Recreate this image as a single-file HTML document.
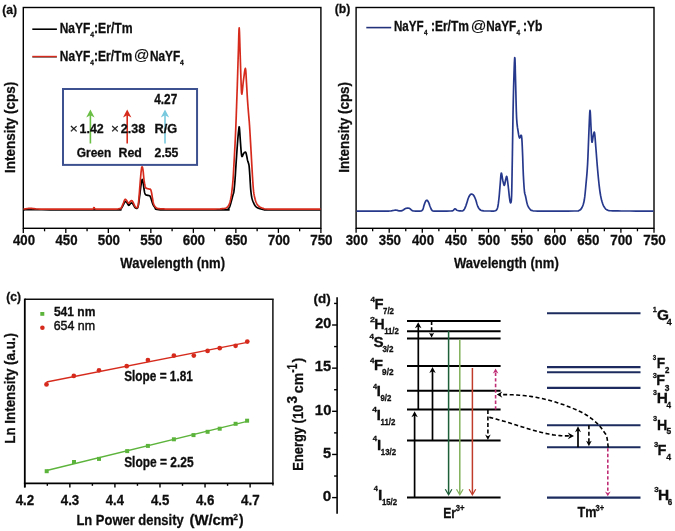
<!DOCTYPE html>
<html><head><meta charset="utf-8"><style>
html,body{margin:0;padding:0;background:#fff;}
svg{display:block;}

</style></head><body>
<svg width="675" height="531" viewBox="0 0 675 531" font-family="Liberation Sans, sans-serif" font-weight="bold" fill="#111">
<defs><filter id="bl" x="0" y="0" width="675" height="531" filterUnits="userSpaceOnUse"><feGaussianBlur stdDeviation="0.4"/></filter></defs>
<rect width="675" height="531" fill="#fff"/>
<g filter="url(#bl)">
<rect x="23.3" y="7.5" width="297.6" height="220.8" fill="none" stroke="#000" stroke-width="1.4"/>
<line x1="23.3" y1="228.3" x2="23.3" y2="232.9" stroke="#000" stroke-width="1.3"/>
<text x="12.95" y="245" font-size="14.45" stroke="#111" stroke-width="0.3" textLength="22.04" lengthAdjust="spacingAndGlyphs">400</text>
<line x1="44.56" y1="228.3" x2="44.56" y2="231.3" stroke="#000" stroke-width="1.3"/>
<line x1="65.81" y1="228.3" x2="65.81" y2="232.9" stroke="#000" stroke-width="1.3"/>
<text x="55.46" y="245" font-size="14.45" stroke="#111" stroke-width="0.3" textLength="22.04" lengthAdjust="spacingAndGlyphs">450</text>
<line x1="87.07" y1="228.3" x2="87.07" y2="231.3" stroke="#000" stroke-width="1.3"/>
<line x1="108.33" y1="228.3" x2="108.33" y2="232.9" stroke="#000" stroke-width="1.3"/>
<text x="97.77" y="245" font-size="14.45" stroke="#111" stroke-width="0.3" textLength="22.26" lengthAdjust="spacingAndGlyphs">500</text>
<line x1="129.59" y1="228.3" x2="129.59" y2="231.3" stroke="#000" stroke-width="1.3"/>
<line x1="150.84" y1="228.3" x2="150.84" y2="232.9" stroke="#000" stroke-width="1.3"/>
<text x="140.28" y="245" font-size="14.45" stroke="#111" stroke-width="0.3" textLength="22.26" lengthAdjust="spacingAndGlyphs">550</text>
<line x1="172.1" y1="228.3" x2="172.1" y2="231.3" stroke="#000" stroke-width="1.3"/>
<line x1="193.36" y1="228.3" x2="193.36" y2="232.9" stroke="#000" stroke-width="1.3"/>
<text x="182.72" y="245" font-size="14.45" stroke="#111" stroke-width="0.3" textLength="22.34" lengthAdjust="spacingAndGlyphs">600</text>
<line x1="214.61" y1="228.3" x2="214.61" y2="231.3" stroke="#000" stroke-width="1.3"/>
<line x1="235.87" y1="228.3" x2="235.87" y2="232.9" stroke="#000" stroke-width="1.3"/>
<text x="225.23" y="245" font-size="14.45" stroke="#111" stroke-width="0.3" textLength="22.34" lengthAdjust="spacingAndGlyphs">650</text>
<line x1="257.13" y1="228.3" x2="257.13" y2="231.3" stroke="#000" stroke-width="1.3"/>
<line x1="278.39" y1="228.3" x2="278.39" y2="232.9" stroke="#000" stroke-width="1.3"/>
<text x="267.66" y="245" font-size="14.45" stroke="#111" stroke-width="0.3" textLength="22.43" lengthAdjust="spacingAndGlyphs">700</text>
<line x1="299.64" y1="228.3" x2="299.64" y2="231.3" stroke="#000" stroke-width="1.3"/>
<line x1="320.9" y1="228.3" x2="320.9" y2="232.9" stroke="#000" stroke-width="1.3"/>
<text x="310.17" y="245" font-size="14.45" stroke="#111" stroke-width="0.3" textLength="22.43" lengthAdjust="spacingAndGlyphs">750</text>
<text x="2.2" y="13.9" font-size="13.05" stroke="#111" stroke-width="0.3" textLength="14.81" lengthAdjust="spacingAndGlyphs">(a)</text>
<text x="120.29" y="267.6" font-size="15.52" stroke="#111" stroke-width="0.3" textLength="104.76" lengthAdjust="spacingAndGlyphs">Wavelength (nm)</text>
<text transform="translate(14.8,172) rotate(-90)" x="-0.9" y="0" font-size="15.52" stroke="#111" stroke-width="0.3" textLength="91.07" lengthAdjust="spacingAndGlyphs">Intensity (cps)</text>
<line x1="32.3" y1="29.2" x2="56.9" y2="29.2" stroke="#000" stroke-width="1.6"/>
<line x1="32.3" y1="57.1" x2="56.9" y2="57.1" stroke="#333" stroke-width="1"/>
<line x1="32.3" y1="56.5" x2="56.9" y2="56.5" stroke="#D62C1E" stroke-width="1.4"/>
<text x="59.7" y="32.8" font-size="14.02" stroke="#111" stroke-width="0.3" textLength="30.54" lengthAdjust="spacingAndGlyphs">NaYF</text>
<text x="90.2" y="37.2" font-size="7.7" stroke="#111" stroke-width="0.3" textLength="3.84" lengthAdjust="spacingAndGlyphs">4</text>
<text x="93.92" y="32.8" font-size="14.02" stroke="#111" stroke-width="0.3" textLength="38.73" lengthAdjust="spacingAndGlyphs">:Er/Tm</text>
<text x="59.8" y="60.6" font-size="14.02" stroke="#111" stroke-width="0.3" textLength="30.54" lengthAdjust="spacingAndGlyphs">NaYF</text>
<text x="90.2" y="64.9" font-size="7.7" stroke="#111" stroke-width="0.3" textLength="3.63" lengthAdjust="spacingAndGlyphs">4</text>
<text x="93.94" y="60.6" font-size="14.02" stroke="#111" stroke-width="0.3" textLength="38.21" lengthAdjust="spacingAndGlyphs">:Er/Tm</text>
<text x="133.88" y="60.1" font-size="13.91" font-weight="normal" stroke="#111" stroke-width="0.15" textLength="15.76" lengthAdjust="spacingAndGlyphs">@</text>
<text x="149.91" y="60.6" font-size="14.02" stroke="#111" stroke-width="0.3" textLength="30.22" lengthAdjust="spacingAndGlyphs">NaYF</text>
<text x="180.1" y="64.7" font-size="7.7" stroke="#111" stroke-width="0.3" textLength="3.74" lengthAdjust="spacingAndGlyphs">4</text>
<polyline points="23.5,209.9 24.12,209.83 24.88,209.73 26.57,209.64 30,209.6 35.24,209.64 41.91,209.73 50.12,209.83 60,209.9 73.41,209.93 89.69,209.94 105.12,209.93 116,209.9 120.5,209.86 120.88,209.8 119.56,209.72 119,209.6 119.57,209.49 120.06,209.39 120.52,209.19 121,208.8 121.51,208.14 122.04,207.29 122.54,206.36 123,205.5 123.4,204.68 123.76,203.86 124.09,203.1 124.4,202.5 124.69,202.06 124.94,201.73 125.2,201.54 125.5,201.5 125.84,201.64 126.21,201.93 126.6,202.34 127,202.8 127.41,203.44 127.84,204.24 128.27,204.94 128.7,205.3 129.13,205.14 129.56,204.64 129.98,204.05 130.4,203.6 130.81,203.31 131.21,203.07 131.61,202.94 132,203 132.38,203.31 132.76,203.81 133.13,204.4 133.5,205 133.88,205.63 134.25,206.33 134.62,206.98 135,207.5 135.38,207.85 135.78,208.09 136.15,208.23 136.5,208.3 136.81,208.33 137.09,208.31 137.35,208.15 137.6,207.8 137.84,207.25 138.06,206.53 138.28,205.62 138.5,204.5 138.72,203.16 138.94,201.61 139.16,199.88 139.4,198 139.66,195.88 139.94,193.53 140.23,191.17 140.5,189 140.76,187 141.02,185.09 141.27,183.39 141.5,182 141.71,180.92 141.91,180.09 142.1,179.6 142.3,179.5 142.52,179.89 142.75,180.72 142.98,181.81 143.2,183 143.41,184.37 143.61,185.97 143.8,187.58 144,189 144.2,190.19 144.39,191.27 144.59,192.21 144.8,193 145,193.61 145.19,194.06 145.41,194.41 145.7,194.7 146.09,194.93 146.56,195.09 147.05,195.2 147.5,195.3 147.91,195.39 148.29,195.45 148.66,195.51 149,195.6 149.3,195.68 149.58,195.74 149.83,195.89 150.1,196.2 150.37,196.72 150.64,197.39 150.92,198.16 151.2,199 151.5,199.95 151.8,201.02 152.1,202.08 152.4,203 152.67,203.74 152.93,204.37 153.2,204.94 153.5,205.5 153.84,206.06 154.19,206.59 154.58,207.1 155,207.6 155.21,208.12 155.28,208.66 155.71,209.14 157,209.5 158.52,209.71 160.25,209.82 163.61,209.86 170,209.9 181.8,209.94 197.59,209.95 213.09,209.94 224,209.9 228.47,209.87 229.01,209.83 227.93,209.72 227.5,209.5 228.09,209.14 228.55,208.66 228.94,208.11 229.3,207.5 229.62,206.87 229.88,206.19 230.12,205.41 230.4,204.5 230.73,203.39 231.09,202.12 231.45,200.8 231.8,199.5 232.14,198.21 232.49,196.88 232.81,195.62 233.1,194.5 233.33,193.79 233.51,193.35 233.69,192.71 233.9,191.4 234.16,189.23 234.44,186.47 234.73,183.33 235,180 235.26,176.41 235.51,172.5 235.75,168.49 236,164.6 236.25,160.83 236.51,157.09 236.76,153.45 237,150 237.24,146.7 237.47,143.53 237.69,140.59 237.9,138 238.09,135.83 238.26,133.99 238.43,132.41 238.6,131 238.77,129.41 238.93,127.81 239.1,126.82 239.3,127.1 239.53,129.16 239.79,132.56 240.05,136.44 240.3,140 240.53,143.24 240.76,146.52 240.98,149.54 241.2,152 241.39,153.85 241.56,155.24 241.75,156.16 242,156.6 242.34,156.33 242.73,155.43 243.16,154.34 243.6,153.5 244.07,152.93 244.59,152.42 245.08,152.11 245.5,152.1 245.81,152.47 246.06,153.15 246.27,154.03 246.5,155 246.75,156.15 247.01,157.49 247.26,158.84 247.5,160 247.74,160.89 247.97,161.62 248.19,162.3 248.4,163 248.59,163.61 248.76,164.12 248.93,164.83 249.1,166 249.28,167.8 249.46,170.06 249.63,172.54 249.8,175 249.96,177.51 250.11,180.16 250.26,182.73 250.4,185 250.52,186.86 250.63,188.44 250.75,189.91 250.9,191.4 251.09,192.98 251.29,194.57 251.53,196.09 251.8,197.5 252.11,198.76 252.44,199.91 252.81,200.98 253.2,202 253.62,202.98 254.06,203.91 254.53,204.75 255,205.5 255.46,206.12 255.93,206.64 256.43,207.09 257,207.5 257.66,207.86 258.38,208.16 259.16,208.43 260,208.7 260.88,208.98 261.81,209.26 262.84,209.51 264,209.7 264.32,209.81 264.09,209.86 265.32,209.88 270,209.9 280.68,209.91 295.62,209.91 310.38,209.9 320.5,209.9" fill="none" stroke="#000" stroke-width="1.7" stroke-linejoin="round"/>
<polyline points="23.5,209.1 24.14,209.01 25.06,208.87 26.08,208.72 27,208.6 27.76,208.49 28.47,208.39 29.19,208.32 30,208.3 30.88,208.35 31.81,208.46 32.84,208.58 34,208.7 35.03,208.81 36,208.92 37.47,209.02 40,209.1 43.78,209.15 48.5,209.18 53.97,209.2 60,209.2 67.43,209.19 76.06,209.18 84.16,209.14 90,209.1 92.7,209.06 93.31,209.02 93.02,208.94 93,208.8 93.38,208.5 93.59,208.09 93.76,207.74 94,207.6 94.27,207.8 94.53,208.21 94.9,208.67 95.5,209 96.14,209.14 96.84,209.19 98,209.2 100,209.2 103.5,209.2 108.09,209.19 112.64,209.15 116,209.1 117.69,209.02 118.38,208.93 118.62,208.81 119,208.7 119.57,208.67 120.06,208.69 120.52,208.59 121,208.2 121.51,207.39 122.04,206.29 122.54,205.09 123,204 123.4,203.02 123.76,202.06 124.09,201.2 124.4,200.5 124.67,199.97 124.9,199.59 125.13,199.36 125.4,199.3 125.71,199.46 126.04,199.82 126.41,200.3 126.8,200.8 127.24,201.44 127.73,202.21 128.23,202.88 128.7,203.2 129.14,203 129.57,202.44 129.99,201.78 130.4,201.3 130.81,200.99 131.21,200.73 131.61,200.6 132,200.7 132.38,201.09 132.76,201.72 133.13,202.46 133.5,203.2 133.88,203.97 134.25,204.82 134.62,205.64 135,206.3 135.38,206.79 135.78,207.17 136.15,207.44 136.5,207.6 136.81,207.7 137.09,207.71 137.36,207.57 137.6,207.2 137.82,206.62 138.02,205.86 138.21,204.84 138.4,203.5 138.6,201.82 138.79,199.83 138.99,197.55 139.2,195 139.44,192.02 139.69,188.66 139.95,185.21 140.2,182 140.45,178.95 140.71,175.95 140.96,173.22 141.2,171 141.41,169.3 141.6,168.01 141.79,167.17 142,166.8 142.24,166.92 142.49,167.51 142.75,168.55 143,170 143.25,172.13 143.5,174.86 143.75,177.66 144,180 144.25,181.76 144.51,183.22 144.76,184.44 145,185.5 145.22,186.38 145.41,187.06 145.63,187.58 145.9,188 146.25,188.29 146.66,188.43 147.09,188.51 147.5,188.6 147.88,188.71 148.25,188.81 148.62,188.9 149,189 149.41,189.05 149.83,189.06 150.24,189.16 150.6,189.5 150.89,190.11 151.14,190.91 151.36,191.88 151.6,193 151.85,194.36 152.11,195.94 152.36,197.55 152.6,199 152.82,200.27 153.02,201.44 153.24,202.52 153.5,203.5 153.82,204.39 154.18,205.17 154.58,205.88 155,206.5 155.46,207.04 155.94,207.51 156.46,207.89 157,208.2 157.61,208.42 158.29,208.55 158.92,208.63 159.4,208.7 159.46,208.75 159.23,208.76 159.23,208.77 160,208.8 161.37,208.87 163.16,208.95 165.87,209.03 170,209.1 176.38,209.15 184.5,209.18 192.88,209.2 200,209.2 205.67,209.17 210.62,209.12 214.77,209.06 218,209 220,208.94 220.91,208.87 221.36,208.79 222,208.7 222.94,208.61 223.86,208.53 224.72,208.41 225.5,208.2 226.17,207.91 226.76,207.56 227.3,207.13 227.8,206.6 228.28,205.97 228.71,205.26 229.12,204.44 229.5,203.5 229.86,202.42 230.19,201.21 230.51,199.9 230.8,198.5 231.07,197.11 231.31,195.69 231.54,194.05 231.8,192 232.09,189.46 232.41,186.53 232.72,183.34 233,180 233.24,176.58 233.46,173 233.67,169.17 233.9,165 234.17,160.35 234.45,155.31 234.73,150.12 235,145 235.24,140.12 235.46,135.31 235.68,130.35 235.9,125 236.13,119 236.36,112.54 236.59,106.06 236.8,100 236.98,94.72 237.15,89.92 237.32,84.98 237.5,79.3 237.71,72.41 237.94,64.74 238.18,57.02 238.4,50 238.6,42.82 238.79,35.42 238.99,29.8 239.2,27.9 239.44,31.26 239.7,38.51 239.96,47.22 240.2,55 240.41,61.65 240.61,68.31 240.8,74.56 241,80 241.18,84.98 241.34,89.55 241.54,92.9 241.8,94.2 242.16,92.59 242.58,88.71 243.04,84.03 243.5,80 243.98,76.3 244.49,72.4 244.98,69.4 245.4,68.4 245.73,70.15 246.01,73.91 246.25,78.57 246.5,83 246.76,87.18 247.01,91.6 247.25,95.98 247.5,100 247.75,103.55 248,106.81 248.25,109.91 248.5,113 248.75,115.88 248.99,118.56 249.24,121.46 249.5,125 249.79,129.45 250.09,134.53 250.4,139.84 250.7,145 250.99,150.03 251.27,155.09 251.54,160 251.8,164.6 252.04,168.84 252.26,172.81 252.48,176.53 252.7,180 252.92,183.24 253.13,186.25 253.35,188.98 253.6,191.4 253.87,193.44 254.17,195.13 254.48,196.61 254.8,198 255.13,199.31 255.46,200.47 255.82,201.53 256.2,202.5 256.61,203.38 257.03,204.17 257.49,204.87 258,205.5 258.58,206.05 259.21,206.53 259.86,206.93 260.5,207.3 261.11,207.61 261.72,207.87 262.34,208.09 263,208.3 263.46,208.51 263.78,208.71 264.46,208.87 266,209 268.11,209.07 270.66,209.09 274.38,209.09 280,209.1 289.21,209.13 301.12,209.16 312.6,209.18 320.5,209.2" fill="none" stroke="#D62C1E" stroke-width="1.7" stroke-linejoin="round"/>
<rect x="63" y="89" width="134.05" height="75.9" fill="none" stroke="#3D5190" stroke-width="2"/>
<line x1="90.4" y1="143.5" x2="90.4" y2="114.32" stroke="#6BBE45" stroke-width="1.6"/>
<path d="M90.4,109.4 L86.2,117.6 L90.4,115.14 L94.6,117.6 Z" fill="#6BBE45"/>
<line x1="127.2" y1="143.5" x2="127.2" y2="114.32" stroke="#D62C1E" stroke-width="1.6"/>
<path d="M127.2,109.4 L123,117.6 L127.2,115.14 L131.4,117.6 Z" fill="#D62C1E"/>
<line x1="165" y1="143.5" x2="165" y2="114.32" stroke="#78C9DD" stroke-width="1.6"/>
<path d="M165,109.4 L160.8,117.6 L165,115.14 L169.2,117.6 Z" fill="#78C9DD"/>
<text x="69.74" y="133.1" font-size="12.84" font-weight="normal" stroke="#111" stroke-width="0.2" textLength="8.12" lengthAdjust="spacingAndGlyphs">×</text>
<text x="79.62" y="133.3" font-size="13.38" stroke="#111" stroke-width="0.3" textLength="24.18" lengthAdjust="spacingAndGlyphs">1.42</text>
<text x="111.05" y="133.1" font-size="12.84" font-weight="normal" stroke="#111" stroke-width="0.2" textLength="7.99" lengthAdjust="spacingAndGlyphs">×</text>
<text x="120.77" y="133.3" font-size="13.38" stroke="#111" stroke-width="0.3" textLength="24.32" lengthAdjust="spacingAndGlyphs">2.38</text>
<text x="154.44" y="133.3" font-size="13.38" stroke="#111" stroke-width="0.3" textLength="22.75" lengthAdjust="spacingAndGlyphs">R/G</text>
<text x="154.22" y="104" font-size="13.91" stroke="#111" stroke-width="0.3" textLength="23" lengthAdjust="spacingAndGlyphs">4.27</text>
<text x="76.81" y="156.8" font-size="12.73" stroke="#111" stroke-width="0.3" textLength="34.43" lengthAdjust="spacingAndGlyphs">Green</text>
<text x="118.57" y="156.8" font-size="12.73" stroke="#111" stroke-width="0.3" textLength="23.34" lengthAdjust="spacingAndGlyphs">Red</text>
<text x="154.57" y="156.8" font-size="12.73" stroke="#111" stroke-width="0.3" textLength="23.87" lengthAdjust="spacingAndGlyphs">2.55</text>
<rect x="356.1" y="7.5" width="297.9" height="220.8" fill="none" stroke="#000" stroke-width="1.4"/>
<line x1="356.1" y1="228.3" x2="356.1" y2="232.7" stroke="#000" stroke-width="1.3"/>
<text x="345.65" y="245" font-size="14.45" stroke="#111" stroke-width="0.3" textLength="22.15" lengthAdjust="spacingAndGlyphs">300</text>
<line x1="372.65" y1="228.3" x2="372.65" y2="231.3" stroke="#000" stroke-width="1.3"/>
<line x1="389.2" y1="228.3" x2="389.2" y2="232.7" stroke="#000" stroke-width="1.3"/>
<text x="378.75" y="245" font-size="14.45" stroke="#111" stroke-width="0.3" textLength="22.15" lengthAdjust="spacingAndGlyphs">350</text>
<line x1="405.75" y1="228.3" x2="405.75" y2="231.3" stroke="#000" stroke-width="1.3"/>
<line x1="422.3" y1="228.3" x2="422.3" y2="232.7" stroke="#000" stroke-width="1.3"/>
<text x="411.95" y="245" font-size="14.45" stroke="#111" stroke-width="0.3" textLength="22.04" lengthAdjust="spacingAndGlyphs">400</text>
<line x1="438.85" y1="228.3" x2="438.85" y2="231.3" stroke="#000" stroke-width="1.3"/>
<line x1="455.4" y1="228.3" x2="455.4" y2="232.7" stroke="#000" stroke-width="1.3"/>
<text x="445.05" y="245" font-size="14.45" stroke="#111" stroke-width="0.3" textLength="22.04" lengthAdjust="spacingAndGlyphs">450</text>
<line x1="471.95" y1="228.3" x2="471.95" y2="231.3" stroke="#000" stroke-width="1.3"/>
<line x1="488.5" y1="228.3" x2="488.5" y2="232.7" stroke="#000" stroke-width="1.3"/>
<text x="477.94" y="245" font-size="14.45" stroke="#111" stroke-width="0.3" textLength="22.26" lengthAdjust="spacingAndGlyphs">500</text>
<line x1="505.05" y1="228.3" x2="505.05" y2="231.3" stroke="#000" stroke-width="1.3"/>
<line x1="521.6" y1="228.3" x2="521.6" y2="232.7" stroke="#000" stroke-width="1.3"/>
<text x="511.04" y="245" font-size="14.45" stroke="#111" stroke-width="0.3" textLength="22.26" lengthAdjust="spacingAndGlyphs">550</text>
<line x1="538.15" y1="228.3" x2="538.15" y2="231.3" stroke="#000" stroke-width="1.3"/>
<line x1="554.7" y1="228.3" x2="554.7" y2="232.7" stroke="#000" stroke-width="1.3"/>
<text x="544.06" y="245" font-size="14.45" stroke="#111" stroke-width="0.3" textLength="22.34" lengthAdjust="spacingAndGlyphs">600</text>
<line x1="571.25" y1="228.3" x2="571.25" y2="231.3" stroke="#000" stroke-width="1.3"/>
<line x1="587.8" y1="228.3" x2="587.8" y2="232.7" stroke="#000" stroke-width="1.3"/>
<text x="577.16" y="245" font-size="14.45" stroke="#111" stroke-width="0.3" textLength="22.34" lengthAdjust="spacingAndGlyphs">650</text>
<line x1="604.35" y1="228.3" x2="604.35" y2="231.3" stroke="#000" stroke-width="1.3"/>
<line x1="620.9" y1="228.3" x2="620.9" y2="232.7" stroke="#000" stroke-width="1.3"/>
<text x="610.17" y="245" font-size="14.45" stroke="#111" stroke-width="0.3" textLength="22.43" lengthAdjust="spacingAndGlyphs">700</text>
<line x1="637.45" y1="228.3" x2="637.45" y2="231.3" stroke="#000" stroke-width="1.3"/>
<line x1="654" y1="228.3" x2="654" y2="232.7" stroke="#000" stroke-width="1.3"/>
<text x="643.27" y="245" font-size="14.45" stroke="#111" stroke-width="0.3" textLength="22.43" lengthAdjust="spacingAndGlyphs">750</text>
<text x="334.69" y="12.6" font-size="13.05" stroke="#111" stroke-width="0.3" textLength="15.62" lengthAdjust="spacingAndGlyphs">(b)</text>
<text x="453.99" y="267.6" font-size="15.52" stroke="#111" stroke-width="0.3" textLength="104.76" lengthAdjust="spacingAndGlyphs">Wavelength (nm)</text>
<text transform="translate(348.6,171.9) rotate(-90)" x="-0.9" y="0" font-size="15.52" stroke="#111" stroke-width="0.3" textLength="90.76" lengthAdjust="spacingAndGlyphs">Intensity (cps)</text>
<line x1="366.3" y1="27.6" x2="391.2" y2="27.6" stroke="#22307A" stroke-width="1.6"/>
<text x="393.92" y="30.9" font-size="14.02" stroke="#111" stroke-width="0.3" textLength="29.7" lengthAdjust="spacingAndGlyphs">NaYF</text>
<text x="424.1" y="35.2" font-size="7.7" stroke="#111" stroke-width="0.3" textLength="3.53" lengthAdjust="spacingAndGlyphs">4</text>
<text x="430.95" y="30.9" font-size="14.02" stroke="#111" stroke-width="0.3" textLength="38" lengthAdjust="spacingAndGlyphs">:Er/Tm</text>
<text x="470.69" y="30.6" font-size="13.91" font-weight="normal" stroke="#111" stroke-width="0.15" textLength="15.64" lengthAdjust="spacingAndGlyphs">@</text>
<text x="486.32" y="30.9" font-size="14.02" stroke="#111" stroke-width="0.3" textLength="29.91" lengthAdjust="spacingAndGlyphs">NaYF</text>
<text x="516.4" y="35.2" font-size="7.7" stroke="#111" stroke-width="0.3" textLength="3.63" lengthAdjust="spacingAndGlyphs">4</text>
<text x="522.94" y="30.9" font-size="14.02" stroke="#111" stroke-width="0.3" textLength="19.46" lengthAdjust="spacingAndGlyphs">:Yb</text>
<polyline points="356.5,211.2 361.04,211.18 367.62,211.16 374.52,211.13 380,211.1 383.61,211.08 386.28,211.08 388.31,211.05 390,211 391.24,210.9 391.94,210.77 392.41,210.63 393,210.5 393.75,210.37 394.5,210.22 395.25,210.12 396,210.1 396.75,210.22 397.5,210.43 398.25,210.66 399,210.8 399.75,210.87 400.5,210.91 401.25,210.87 402,210.7 402.77,210.32 403.56,209.78 404.32,209.23 405,208.8 405.56,208.54 406.03,208.37 406.49,208.26 407,208.2 407.6,208.16 408.25,208.16 408.9,208.23 409.5,208.4 410.02,208.74 410.5,209.21 410.98,209.7 411.5,210.1 412.01,210.4 412.5,210.65 413.12,210.85 414,211 415.34,211.11 417,211.17 418.66,211.18 420,211.1 420.89,210.99 421.53,210.84 422.03,210.54 422.5,210 422.95,209.1 423.31,207.93 423.65,206.67 424,205.5 424.38,204.4 424.75,203.29 425.12,202.29 425.5,201.5 425.87,200.92 426.24,200.51 426.61,200.29 427,200.3 427.42,200.58 427.85,201.11 428.28,201.81 428.7,202.6 429.08,203.53 429.44,204.62 429.81,205.75 430.2,206.8 430.6,207.79 431.01,208.76 431.46,209.63 432,210.3 432.38,210.71 432.68,210.93 433.38,211.03 435,211.1 438.19,211.15 442.5,211.13 446.81,211.07 450,211 451.62,210.93 452.31,210.85 452.6,210.72 453,210.5 453.57,210.08 454.06,209.53 454.52,209.03 455,208.8 455.48,208.97 455.94,209.41 456.43,209.91 457,210.3 457.68,210.53 458.44,210.71 459.23,210.83 460,210.9 460.77,210.96 461.56,211.01 462.32,210.94 463,210.7 463.58,210.25 464.07,209.65 464.54,208.9 465,208 465.46,206.94 465.9,205.71 466.34,204.37 466.8,203 467.28,201.5 467.77,199.86 468.28,198.3 468.8,197 469.33,195.99 469.87,195.16 470.42,194.56 471,194.2 471.61,194.11 472.26,194.26 472.9,194.63 473.5,195.2 474.06,196.01 474.6,197.07 475.11,198.26 475.6,199.5 476.05,200.84 476.48,202.3 476.88,203.74 477.3,205 477.69,206.05 478.07,206.96 478.48,207.76 479,208.5 479.54,209.19 480.11,209.8 480.87,210.31 482,210.7 483.72,210.92 485.88,211 488.09,211 490,211 491.52,211.05 492.84,211.09 494,211.04 495,210.8 495.82,210.45 496.47,210.01 497,209.27 497.5,208 497.95,206.1 498.33,203.7 498.67,200.95 499,198 499.32,194.71 499.62,191.06 499.91,187.38 500.2,184 500.47,180.61 500.73,177.16 501,174.38 501.3,173 501.65,173.64 502.03,175.76 502.42,178.37 502.8,180.5 503.18,182.15 503.56,183.76 503.94,184.96 504.3,185.4 504.64,184.73 504.97,183.23 505.29,181.46 505.6,180 505.9,178.69 506.19,177.32 506.49,176.42 506.8,176.5 507.14,177.9 507.49,180.28 507.85,183.14 508.2,186 508.54,188.99 508.87,192.29 509.19,195.45 509.5,198 509.79,199.98 510.07,201.57 510.34,202.58 510.6,202.8 510.86,202.6 511.13,201.95 511.37,200.03 511.6,196 511.79,189.62 511.95,181.32 512.11,171.37 512.3,160 512.52,146.28 512.76,130.41 513.01,114.33 513.3,100 513.63,86.57 514.01,73.47 514.38,63 514.7,57.5 514.96,58.64 515.18,64.84 515.38,73.5 515.6,82 515.83,90.7 516.05,100.62 516.3,110.24 516.6,118 516.99,123.35 517.43,127.16 517.89,130.01 518.3,132.5 518.64,134.69 518.94,136.29 519.24,137.38 519.6,138 520.05,137.56 520.57,136.23 521.07,135.24 521.5,135.8 521.82,138.42 522.07,142.39 522.29,147.11 522.5,152 522.71,157.21 522.89,162.95 523.08,168.72 523.3,174 523.55,178.88 523.83,183.56 524.12,187.71 524.4,191 524.66,193.02 524.91,194.05 525.18,194.81 525.5,196 525.89,197.92 526.33,200.14 526.81,202.35 527.3,204.2 527.79,205.6 528.29,206.72 528.85,207.66 529.5,208.5 530.08,209.26 530.64,209.9 531.5,210.41 533,210.8 535,211.02 537.41,211.1 540.61,211.1 545,211.1 551.62,211.11 559.94,211.09 568.04,211.06 574,211 576.98,210.98 578.12,210.99 578.45,210.9 579,210.6 579.91,210.12 580.67,209.49 581.35,208.65 582,207.5 582.64,206.13 583.23,204.56 583.78,202.58 584.3,200 584.77,196.69 585.19,192.78 585.6,188.48 586,184 586.41,179.56 586.83,175 587.22,169.94 587.6,164 587.95,156.6 588.28,148.1 588.6,139.55 588.9,132 589.19,124.97 589.47,118.16 589.74,112.87 590,110.4 590.26,111.9 590.51,116.4 590.76,122.05 591,127 591.22,131.4 591.43,136.02 591.65,139.94 591.9,142.2 592.2,142.09 592.53,140.27 592.87,137.86 593.2,136 593.53,134.51 593.85,132.96 594.18,132.05 594.5,132.5 594.82,134.75 595.14,138.34 595.46,142.64 595.8,147 596.16,151.46 596.52,156.28 596.91,161.21 597.3,166 597.71,170.72 598.14,175.47 598.58,179.98 599,184 599.4,187.41 599.78,190.38 600.17,193.02 600.6,195.5 601.06,197.83 601.56,199.94 602.07,201.83 602.6,203.5 603.14,204.92 603.68,206.11 604.26,207.11 604.9,208 605.53,208.77 606.16,209.39 606.93,209.9 608,210.3 609.29,210.58 610.76,210.74 612.6,210.83 615,210.9 617.99,210.96 621.47,210.98 625.46,210.99 630,211 635.83,211.03 642.69,211.06 649.08,211.08 653.5,211.1" fill="none" stroke="#27398C" stroke-width="1.7" stroke-linejoin="round"/>
<line x1="24.8" y1="299.3" x2="273.65" y2="299.3" stroke="#111" stroke-width="1.5"/>
<line x1="272.9" y1="299.3" x2="272.9" y2="485.6" stroke="#111" stroke-width="1.5"/>
<line x1="24.8" y1="298.6" x2="24.8" y2="487.4" stroke="#000" stroke-width="1.8"/>
<line x1="23.9" y1="483.4" x2="273.6" y2="483.4" stroke="#000" stroke-width="1.9"/>
<line x1="24.8" y1="483.4" x2="24.8" y2="487.4" stroke="#000" stroke-width="1.4"/>
<text x="15.7" y="504.9" font-size="14.45" stroke="#111" stroke-width="0.3" textLength="18.54" lengthAdjust="spacingAndGlyphs">4.2</text>
<line x1="47.33" y1="483.4" x2="47.33" y2="485.8" stroke="#000" stroke-width="1.4"/>
<line x1="69.86" y1="483.4" x2="69.86" y2="487.4" stroke="#000" stroke-width="1.4"/>
<text x="60.76" y="504.9" font-size="14.45" stroke="#111" stroke-width="0.3" textLength="18.48" lengthAdjust="spacingAndGlyphs">4.3</text>
<line x1="92.39" y1="483.4" x2="92.39" y2="485.8" stroke="#000" stroke-width="1.4"/>
<line x1="114.92" y1="483.4" x2="114.92" y2="487.4" stroke="#000" stroke-width="1.4"/>
<text x="105.82" y="504.9" font-size="14.45" stroke="#111" stroke-width="0.3" textLength="18.07" lengthAdjust="spacingAndGlyphs">4.4</text>
<line x1="137.45" y1="483.4" x2="137.45" y2="485.8" stroke="#000" stroke-width="1.4"/>
<line x1="159.98" y1="483.4" x2="159.98" y2="487.4" stroke="#000" stroke-width="1.4"/>
<text x="150.88" y="504.9" font-size="14.45" stroke="#111" stroke-width="0.3" textLength="18.37" lengthAdjust="spacingAndGlyphs">4.5</text>
<line x1="182.51" y1="483.4" x2="182.51" y2="485.8" stroke="#000" stroke-width="1.4"/>
<line x1="205.04" y1="483.4" x2="205.04" y2="487.4" stroke="#000" stroke-width="1.4"/>
<text x="195.94" y="504.9" font-size="14.45" stroke="#111" stroke-width="0.3" textLength="18.48" lengthAdjust="spacingAndGlyphs">4.6</text>
<line x1="227.57" y1="483.4" x2="227.57" y2="485.8" stroke="#000" stroke-width="1.4"/>
<line x1="250.1" y1="483.4" x2="250.1" y2="487.4" stroke="#000" stroke-width="1.4"/>
<text x="241" y="504.9" font-size="14.45" stroke="#111" stroke-width="0.3" textLength="18.59" lengthAdjust="spacingAndGlyphs">4.7</text>
<text x="6.2" y="301" font-size="13.05" stroke="#111" stroke-width="0.3" textLength="14.7" lengthAdjust="spacingAndGlyphs">(c)</text>
<text x="76.43" y="524.6" font-size="14.45" stroke="#111" stroke-width="0.3" textLength="107.24" lengthAdjust="spacingAndGlyphs">Ln Power density</text>
<text x="189.46" y="524.6" font-size="14.45" stroke="#111" stroke-width="0.3" textLength="44.56" lengthAdjust="spacingAndGlyphs">(W/cm</text>
<text x="233.2" y="519.8" font-size="8.56" stroke="#111" stroke-width="0.3" textLength="4.74" lengthAdjust="spacingAndGlyphs">2</text>
<text x="238.89" y="524.6" font-size="14.45" stroke="#111" stroke-width="0.3" textLength="4.6" lengthAdjust="spacingAndGlyphs">)</text>
<text transform="translate(14.9,442.9) rotate(-90)" x="-0.9" y="0" font-size="15.52" stroke="#111" stroke-width="0.3" textLength="110.86" lengthAdjust="spacingAndGlyphs">Ln Intensity (a.u.)</text>
<rect x="40.3" y="312" width="4" height="3.8" fill="#5DB43C"/>
<circle cx="42.4" cy="327.8" r="2.3" fill="#D62C1E"/>
<text x="53.93" y="316" font-size="12.84" stroke="#111" stroke-width="0.3" textLength="41.52" lengthAdjust="spacingAndGlyphs">541 nm</text>
<text x="53.67" y="329.5" font-size="13.16" font-weight="normal" stroke="#111" stroke-width="0.45" textLength="41.45" lengthAdjust="spacingAndGlyphs">654 nm</text>
<line x1="46.5" y1="382" x2="247.3" y2="342.3" stroke="#D62C1E" stroke-width="1.35"/>
<line x1="46.7" y1="470.5" x2="247.1" y2="421.3" stroke="#5DB43C" stroke-width="1.35"/>
<circle cx="46.5" cy="384.4" r="2.35" fill="#D62C1E"/>
<circle cx="73.8" cy="375.9" r="2.35" fill="#D62C1E"/>
<circle cx="99" cy="370.3" r="2.35" fill="#D62C1E"/>
<circle cx="126.7" cy="366.2" r="2.35" fill="#D62C1E"/>
<circle cx="147.9" cy="360" r="2.35" fill="#D62C1E"/>
<circle cx="173.9" cy="355.6" r="2.35" fill="#D62C1E"/>
<circle cx="193.8" cy="355.6" r="2.35" fill="#D62C1E"/>
<circle cx="207.6" cy="350.9" r="2.35" fill="#D62C1E"/>
<circle cx="219.7" cy="348.2" r="2.35" fill="#D62C1E"/>
<circle cx="235.6" cy="345.8" r="2.35" fill="#D62C1E"/>
<circle cx="247.3" cy="341.6" r="2.35" fill="#D62C1E"/>
<rect x="44.7" y="469.2" width="4" height="4" fill="#5DB43C"/>
<rect x="72" y="460" width="4" height="4" fill="#5DB43C"/>
<rect x="97" y="456.9" width="4" height="4" fill="#5DB43C"/>
<rect x="125.2" y="449.1" width="4" height="4" fill="#5DB43C"/>
<rect x="145.9" y="443.9" width="4" height="4" fill="#5DB43C"/>
<rect x="171.9" y="437.3" width="4" height="4" fill="#5DB43C"/>
<rect x="191.5" y="433.1" width="4" height="4" fill="#5DB43C"/>
<rect x="205.6" y="429.8" width="4" height="4" fill="#5DB43C"/>
<rect x="217.7" y="426.7" width="4" height="4" fill="#5DB43C"/>
<rect x="233.6" y="421.8" width="4" height="4" fill="#5DB43C"/>
<rect x="245.1" y="418.7" width="4" height="4" fill="#5DB43C"/>
<text x="124.16" y="380.5" font-size="13.91" stroke="#111" stroke-width="0.3" textLength="68.67" lengthAdjust="spacingAndGlyphs">Slope = 1.81</text>
<text x="124.16" y="466.5" font-size="13.91" stroke="#111" stroke-width="0.3" textLength="69.38" lengthAdjust="spacingAndGlyphs">Slope = 2.25</text>
<line x1="337.1" y1="297.3" x2="337.1" y2="513.7" stroke="#000" stroke-width="1.6"/>
<line x1="332.1" y1="497.6" x2="337.1" y2="497.6" stroke="#000" stroke-width="1.4"/>
<text x="322.89" y="500.9" font-size="14.45" stroke="#111" stroke-width="0.3" textLength="8.54" lengthAdjust="spacingAndGlyphs">0</text>
<line x1="334.1" y1="476.03" x2="337.1" y2="476.03" stroke="#000" stroke-width="1.4"/>
<line x1="332.1" y1="454.45" x2="337.1" y2="454.45" stroke="#000" stroke-width="1.4"/>
<text x="323.05" y="457.75" font-size="14.45" stroke="#111" stroke-width="0.3" textLength="8.16" lengthAdjust="spacingAndGlyphs">5</text>
<line x1="334.1" y1="432.88" x2="337.1" y2="432.88" stroke="#000" stroke-width="1.4"/>
<line x1="332.1" y1="411.3" x2="337.1" y2="411.3" stroke="#000" stroke-width="1.4"/>
<text x="314.86" y="414.6" font-size="14.45" stroke="#111" stroke-width="0.3" textLength="16.55" lengthAdjust="spacingAndGlyphs">10</text>
<line x1="334.1" y1="389.73" x2="337.1" y2="389.73" stroke="#000" stroke-width="1.4"/>
<line x1="332.1" y1="368.15" x2="337.1" y2="368.15" stroke="#000" stroke-width="1.4"/>
<text x="314.88" y="371.45" font-size="14.45" stroke="#111" stroke-width="0.3" textLength="16.33" lengthAdjust="spacingAndGlyphs">15</text>
<line x1="334.1" y1="346.58" x2="337.1" y2="346.58" stroke="#000" stroke-width="1.4"/>
<line x1="332.1" y1="325" x2="337.1" y2="325" stroke="#000" stroke-width="1.4"/>
<text x="315.3" y="328.3" font-size="14.45" stroke="#111" stroke-width="0.3" textLength="16.1" lengthAdjust="spacingAndGlyphs">20</text>
<line x1="334.1" y1="303.43" x2="337.1" y2="303.43" stroke="#000" stroke-width="1.4"/>
<text x="313.53" y="302.6" font-size="13.05" stroke="#111" stroke-width="0.3" textLength="17.14" lengthAdjust="spacingAndGlyphs">(d)</text>
<text transform="translate(302.8,469.8) rotate(-90)" x="-0.86" y="0" font-size="15.52" stroke="#111" stroke-width="0.3" textLength="65.89" lengthAdjust="spacingAndGlyphs">Energy (10</text>
<text transform="translate(297,403.2) rotate(-90)" x="-0.31" y="0" font-size="15.52" stroke="#111" stroke-width="0.3" textLength="7.5" lengthAdjust="spacingAndGlyphs">3</text>
<text transform="translate(302.8,392.6) rotate(-90)" x="-0.55" y="0" font-size="15.52" stroke="#111" stroke-width="0.3" textLength="20.32" lengthAdjust="spacingAndGlyphs">cm</text>
<text transform="translate(297,372.3) rotate(-90)" x="-0.39" y="0" font-size="15.52" stroke="#111" stroke-width="0.3" textLength="8.98" lengthAdjust="spacingAndGlyphs">-1</text>
<text transform="translate(302.8,362.5) rotate(-90)" x="-0.01" y="0" font-size="15.52" stroke="#111" stroke-width="0.3" textLength="4.84" lengthAdjust="spacingAndGlyphs">)</text>
<line x1="407" y1="321.1" x2="500.6" y2="321.1" stroke="#000" stroke-width="2"/>
<line x1="407" y1="331.3" x2="500.6" y2="331.3" stroke="#000" stroke-width="2"/>
<line x1="407" y1="338.4" x2="500.6" y2="338.4" stroke="#000" stroke-width="2"/>
<line x1="407" y1="366.1" x2="500.6" y2="366.1" stroke="#000" stroke-width="2"/>
<line x1="407" y1="390.8" x2="500.6" y2="390.8" stroke="#000" stroke-width="2"/>
<line x1="407" y1="409.6" x2="500.6" y2="409.6" stroke="#000" stroke-width="2"/>
<line x1="407" y1="440.5" x2="500.6" y2="440.5" stroke="#000" stroke-width="2"/>
<line x1="407" y1="497.6" x2="500.6" y2="497.6" stroke="#000" stroke-width="2"/>
<line x1="547" y1="313.2" x2="640.5" y2="313.2" stroke="#1A2C5E" stroke-width="2.1"/>
<line x1="547" y1="367.1" x2="640.5" y2="367.1" stroke="#1A2C5E" stroke-width="2.1"/>
<line x1="547" y1="372.3" x2="640.5" y2="372.3" stroke="#1A2C5E" stroke-width="2.1"/>
<line x1="547" y1="387.9" x2="640.5" y2="387.9" stroke="#1A2C5E" stroke-width="2.1"/>
<line x1="547" y1="425.2" x2="640.5" y2="425.2" stroke="#1A2C5E" stroke-width="2.1"/>
<line x1="547" y1="447.3" x2="640.5" y2="447.3" stroke="#1A2C5E" stroke-width="2.1"/>
<line x1="547" y1="497.6" x2="640.5" y2="497.6" stroke="#1A2C5E" stroke-width="2.1"/>
<text x="370.38" y="301.6" font-size="8.03" stroke="#111" stroke-width="0.3" textLength="4.46" lengthAdjust="spacingAndGlyphs">4</text>
<text x="374.61" y="309.4" font-size="15.52" stroke="#111" stroke-width="0.3" textLength="9.03" lengthAdjust="spacingAndGlyphs">F</text>
<text x="383.06" y="314.4" font-size="8.77" stroke="#111" stroke-width="0.3" textLength="10.95" lengthAdjust="spacingAndGlyphs">7/2</text>
<text x="369.99" y="321.9" font-size="8.03" stroke="#111" stroke-width="0.3" textLength="4.97" lengthAdjust="spacingAndGlyphs">2</text>
<text x="374.13" y="329.2" font-size="15.52" stroke="#111" stroke-width="0.3" textLength="10.44" lengthAdjust="spacingAndGlyphs">H</text>
<text x="384.13" y="334.3" font-size="8.77" stroke="#111" stroke-width="0.3" textLength="14.68" lengthAdjust="spacingAndGlyphs">11/2</text>
<text x="369.38" y="339.4" font-size="8.03" stroke="#111" stroke-width="0.3" textLength="4.46" lengthAdjust="spacingAndGlyphs">4</text>
<text x="373.56" y="346.6" font-size="15.52" stroke="#111" stroke-width="0.3" textLength="10.13" lengthAdjust="spacingAndGlyphs">S</text>
<text x="382.42" y="351.7" font-size="8.77" stroke="#111" stroke-width="0.3" textLength="11.1" lengthAdjust="spacingAndGlyphs">3/2</text>
<text x="369.88" y="362.9" font-size="8.03" stroke="#111" stroke-width="0.3" textLength="4.46" lengthAdjust="spacingAndGlyphs">4</text>
<text x="374.11" y="370.2" font-size="15.52" stroke="#111" stroke-width="0.3" textLength="9.03" lengthAdjust="spacingAndGlyphs">F</text>
<text x="382.12" y="375.2" font-size="8.77" stroke="#111" stroke-width="0.3" textLength="11.41" lengthAdjust="spacingAndGlyphs">9/2</text>
<text x="372.89" y="388.8" font-size="8.03" stroke="#111" stroke-width="0.3" textLength="4.15" lengthAdjust="spacingAndGlyphs">4</text>
<text x="376.43" y="396.1" font-size="15.52" stroke="#111" stroke-width="0.3" textLength="4.44" lengthAdjust="spacingAndGlyphs">I</text>
<text x="380.43" y="401" font-size="8.77" stroke="#111" stroke-width="0.3" textLength="10.88" lengthAdjust="spacingAndGlyphs">9/2</text>
<text x="372.37" y="412.3" font-size="8.03" stroke="#111" stroke-width="0.3" textLength="4.67" lengthAdjust="spacingAndGlyphs">4</text>
<text x="376.43" y="419.6" font-size="15.52" stroke="#111" stroke-width="0.3" textLength="4.44" lengthAdjust="spacingAndGlyphs">I</text>
<text x="380.62" y="425" font-size="8.77" stroke="#111" stroke-width="0.3" textLength="14.78" lengthAdjust="spacingAndGlyphs">11/2</text>
<text x="372.68" y="441.4" font-size="8.03" stroke="#111" stroke-width="0.3" textLength="4.36" lengthAdjust="spacingAndGlyphs">4</text>
<text x="376.88" y="449.6" font-size="15.52" stroke="#111" stroke-width="0.3" textLength="4.24" lengthAdjust="spacingAndGlyphs">I</text>
<text x="380.81" y="454.7" font-size="8.77" stroke="#111" stroke-width="0.3" textLength="15.2" lengthAdjust="spacingAndGlyphs">13/2</text>
<text x="373.79" y="491.4" font-size="8.03" stroke="#111" stroke-width="0.3" textLength="4.15" lengthAdjust="spacingAndGlyphs">4</text>
<text x="377.93" y="499.6" font-size="15.52" stroke="#111" stroke-width="0.3" textLength="4.44" lengthAdjust="spacingAndGlyphs">I</text>
<text x="381.91" y="504.7" font-size="8.77" stroke="#111" stroke-width="0.3" textLength="15.2" lengthAdjust="spacingAndGlyphs">15/2</text>
<text x="652.74" y="312.4" font-size="8.03" stroke="#111" stroke-width="0.3" textLength="4.06" lengthAdjust="spacingAndGlyphs">1</text>
<text x="657.07" y="319.8" font-size="15.52" stroke="#111" stroke-width="0.3" textLength="11.99" lengthAdjust="spacingAndGlyphs">G</text>
<text x="666.86" y="324.8" font-size="8.77" stroke="#111" stroke-width="0.3" textLength="4.98" lengthAdjust="spacingAndGlyphs">4</text>
<text x="652.66" y="360.4" font-size="8.03" stroke="#111" stroke-width="0.3" textLength="3.47" lengthAdjust="spacingAndGlyphs">3</text>
<text x="656.78" y="367.9" font-size="15.52" stroke="#111" stroke-width="0.3" textLength="8.43" lengthAdjust="spacingAndGlyphs">F</text>
<text x="664.93" y="373.3" font-size="8.77" stroke="#111" stroke-width="0.3" textLength="4.39" lengthAdjust="spacingAndGlyphs">2</text>
<text x="652.73" y="378.1" font-size="8.03" stroke="#111" stroke-width="0.3" textLength="4.14" lengthAdjust="spacingAndGlyphs">3</text>
<text x="656.34" y="385.2" font-size="15.52" stroke="#111" stroke-width="0.3" textLength="8.79" lengthAdjust="spacingAndGlyphs">F</text>
<text x="664.81" y="390.8" font-size="8.77" stroke="#111" stroke-width="0.3" textLength="4.7" lengthAdjust="spacingAndGlyphs">3</text>
<text x="652.94" y="395.1" font-size="8.03" stroke="#111" stroke-width="0.3" textLength="3.92" lengthAdjust="spacingAndGlyphs">3</text>
<text x="656.86" y="403" font-size="15.52" stroke="#111" stroke-width="0.3" textLength="11.18" lengthAdjust="spacingAndGlyphs">H</text>
<text x="666.48" y="408.2" font-size="8.77" stroke="#111" stroke-width="0.3" textLength="4.57" lengthAdjust="spacingAndGlyphs">4</text>
<text x="653.03" y="421.2" font-size="8.03" stroke="#111" stroke-width="0.3" textLength="4.14" lengthAdjust="spacingAndGlyphs">3</text>
<text x="656.94" y="429.7" font-size="15.52" stroke="#111" stroke-width="0.3" textLength="10.32" lengthAdjust="spacingAndGlyphs">H</text>
<text x="666.54" y="434.4" font-size="8.77" stroke="#111" stroke-width="0.3" textLength="4.69" lengthAdjust="spacingAndGlyphs">5</text>
<text x="653.92" y="447.1" font-size="8.03" stroke="#111" stroke-width="0.3" textLength="4.25" lengthAdjust="spacingAndGlyphs">3</text>
<text x="657.52" y="454.6" font-size="15.52" stroke="#111" stroke-width="0.3" textLength="8.91" lengthAdjust="spacingAndGlyphs">F</text>
<text x="666.17" y="459.8" font-size="8.77" stroke="#111" stroke-width="0.3" textLength="4.88" lengthAdjust="spacingAndGlyphs">4</text>
<text x="654.32" y="492.2" font-size="8.03" stroke="#111" stroke-width="0.3" textLength="4.48" lengthAdjust="spacingAndGlyphs">3</text>
<text x="657.96" y="499.6" font-size="15.52" stroke="#111" stroke-width="0.3" textLength="11.18" lengthAdjust="spacingAndGlyphs">H</text>
<text x="667.8" y="504.7" font-size="8.77" stroke="#111" stroke-width="0.3" textLength="4.49" lengthAdjust="spacingAndGlyphs">6</text>
<text x="443.18" y="517.9" font-size="14.98" stroke="#111" stroke-width="0.3" textLength="12.9" lengthAdjust="spacingAndGlyphs">Er</text>
<text x="455.72" y="511.3" font-size="9.2" stroke="#111" stroke-width="0.3" textLength="8.79" lengthAdjust="spacingAndGlyphs">3+</text>
<text x="577.56" y="517.1" font-size="14.98" stroke="#111" stroke-width="0.3" textLength="18.92" lengthAdjust="spacingAndGlyphs">Tm</text>
<text x="595.53" y="510.7" font-size="9.2" stroke="#111" stroke-width="0.3" textLength="8.68" lengthAdjust="spacingAndGlyphs">3+</text>
<line x1="414.6" y1="497.6" x2="414.6" y2="414.8" stroke="#000" stroke-width="1.7"/>
<path d="M414.6,411.2 L411.4,417.2 L414.6,415.4 L417.8,417.2 Z" fill="#000"/>
<line x1="418.3" y1="409.6" x2="418.3" y2="325" stroke="#000" stroke-width="1.7"/>
<path d="M418.2,322.2 L414.9,328.2 L418.2,326.4 L421.5,328.2 Z" fill="#000"/>
<line x1="432.5" y1="440.5" x2="432.5" y2="370.6" stroke="#000" stroke-width="1.7"/>
<path d="M432.5,367 L429.3,373 L432.5,371.2 L435.7,373 Z" fill="#000"/>
<line x1="431.6" y1="321" x2="431.6" y2="334.68" stroke="#000" stroke-width="1.6" stroke-dasharray="4,2.2" stroke-dashoffset="0"/>
<path d="M431.6,337.8 L429,332.6 L431.6,334.16 L434.2,332.6 Z" fill="#000"/>
<line x1="448.6" y1="331" x2="448.6" y2="494.1" stroke="#1E5E38" stroke-width="1.5"/>
<polyline points="445.3,489.2 448.6,494.9 451.9,489.2" fill="none" stroke="#1E5E38" stroke-width="1.2" stroke-linejoin="miter"/>
<line x1="459.8" y1="339.6" x2="459.8" y2="494.1" stroke="#80B05A" stroke-width="1.5"/>
<polyline points="456.5,489.2 459.8,494.9 463.1,489.2" fill="none" stroke="#80B05A" stroke-width="1.2" stroke-linejoin="miter"/>
<line x1="472.4" y1="368" x2="472.4" y2="494.1" stroke="#C03A2A" stroke-width="1.5"/>
<polyline points="469.1,489.2 472.4,494.9 475.7,489.2" fill="none" stroke="#C03A2A" stroke-width="1.2" stroke-linejoin="miter"/>
<line x1="495.6" y1="409.6" x2="495.6" y2="371.48" stroke="#BF2D75" stroke-width="1.6" stroke-dasharray="3.4,2.2" stroke-dashoffset="0"/>
<path d="M495.6,368.6 L492.8,373.4 L495.6,371.96 L498.4,373.4 Z" fill="#BF2D75"/>
<line x1="487.9" y1="410" x2="487.9" y2="436.7" stroke="#000" stroke-width="1.6" stroke-dasharray="4,2.5" stroke-dashoffset="0"/>
<path d="M487.9,440 L485.1,434.5 L487.9,436.15 L490.7,434.5 Z" fill="#000"/>
<line x1="578" y1="447.3" x2="578" y2="429.9" stroke="#000" stroke-width="1.7"/>
<path d="M578,426.3 L575,432.3 L578,430.5 L581,432.3 Z" fill="#000"/>
<line x1="588.9" y1="425.2" x2="588.9" y2="442.9" stroke="#000" stroke-width="1.6" stroke-dasharray="4,2.5" stroke-dashoffset="0"/>
<path d="M588.9,446.2 L586.1,440.7 L588.9,442.35 L591.7,440.7 Z" fill="#000"/>
<line x1="607.8" y1="448.2" x2="607.8" y2="493.42" stroke="#BF2D75" stroke-width="1.6" stroke-dasharray="3.4,2.2" stroke-dashoffset="0"/>
<path d="M607.8,496.3 L605,491.5 L607.8,492.94 L610.6,491.5 Z" fill="#BF2D75"/>
<polyline points="608.2,447.3 608.1,446.47 607.97,445.32 607.83,443.95 607.66,442.44 607.47,440.9 607.26,439.42 607.04,438.09 606.8,437 606.56,436.17 606.33,435.5 606.1,434.96 605.84,434.49 605.54,434.04 605.2,433.55 604.79,432.99 604.3,432.3 603.73,431.48 603.1,430.57 602.41,429.61 601.66,428.6 600.87,427.58 600.04,426.55 599.18,425.55 598.3,424.6 597.38,423.68 596.43,422.76 595.43,421.85 594.4,420.94 593.34,420.06 592.25,419.18 591.13,418.33 590,417.5 588.88,416.7 587.78,415.94 586.68,415.21 585.54,414.49 584.34,413.77 583.03,413.04 581.6,412.29 580,411.5 578.2,410.66 576.2,409.78 574.05,408.88 571.81,407.96 569.54,407.06 567.27,406.18 565.08,405.36 563,404.6 561.04,403.91 559.14,403.26 557.28,402.65 555.44,402.08 553.62,401.54 551.78,401.01 549.91,400.5 548,400 546.05,399.51 544.07,399.03 542.08,398.56 540.07,398.12 538.04,397.7 536.01,397.3 533.96,396.94 531.9,396.6 529.82,396.3 527.7,396.02 525.56,395.78 523.41,395.56 521.27,395.36 519.15,395.19 517.05,395.03 515,394.9 512.89,394.79 510.66,394.72 508.4,394.67 506.19,394.64 504.12,394.63 502.25,394.62 500.69,394.61 499.5,394.6" fill="none" stroke="#000" stroke-width="1.6" stroke-dasharray="4,2.5"/>
<path d="M496.8,394.6 L502.3,391.5 L500.5,394.6 L502.3,397.7 Z" fill="#000"/>
<polyline points="489.3,417.3 490.51,417.62 492.1,418.03 494,418.52 496.12,419.08 498.36,419.67 500.65,420.28 502.89,420.9 505,421.5 507.04,422.11 509.12,422.75 511.22,423.42 513.33,424.09 515.42,424.77 517.5,425.44 519.53,426.09 521.5,426.7 523.41,427.29 525.27,427.86 527.08,428.42 528.88,428.96 530.65,429.49 532.42,430.01 534.2,430.51 536,431 537.85,431.48 539.74,431.96 541.66,432.44 543.56,432.89 545.43,433.33 547.23,433.73 548.93,434.09 550.5,434.4 551.93,434.66 553.24,434.88 554.45,435.05 555.59,435.19 556.69,435.31 557.78,435.41 558.87,435.51 560,435.6 561.21,435.68 562.5,435.75 563.81,435.79 565.09,435.83 566.31,435.85 567.39,435.87 568.31,435.88 569,435.9" fill="none" stroke="#000" stroke-width="1.6" stroke-dasharray="4,2.5"/>
<path d="M574,435.9 L567.8,432.6 L569.8,435.9 L567.8,439.3 Z" fill="#000"/>
</g>
</svg>
</body></html>
